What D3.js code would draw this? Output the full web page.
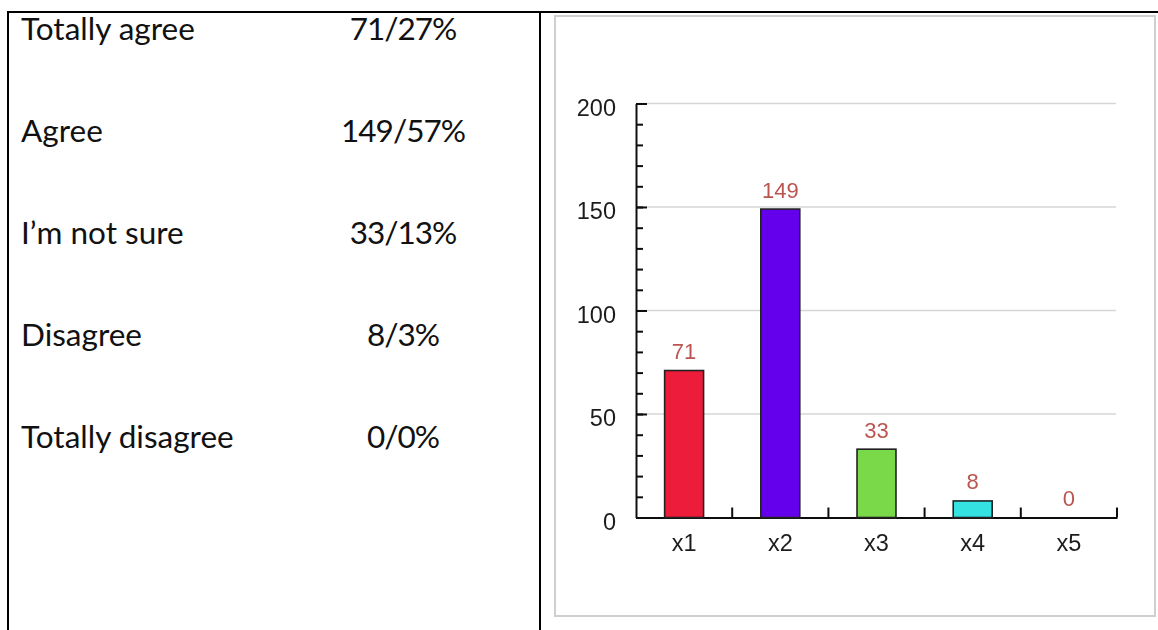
<!DOCTYPE html>
<html>
<head>
<meta charset="utf-8">
<script src="https://cdn.jsdelivr.net/npm/d3@7"></script>
<style>
  html, body { margin: 0; padding: 0; background: #fff; }
  svg { display: block; }
</style>
</head>
<body>
<svg id="chart" width="1158" height="630"></svg>
<script>
// Survey answers, counts and shares
const answers = ["Totally agree", "Agree", "I\u2019m not sure", "Disagree", "Totally disagree"];
const counts = [71, 149, 33, 8, 0];
const percents = [27, 57, 13, 3, 0];

// Bar chart categories and axis ticks
const categories = ["x1", "x2", "x3", "x4", "x5"];
const yTicks = [0, 50, 100, 150, 200];
const yMinorStep = 10;

const barColors = ["#ee1b3b", "#6502ec", "#79d948", "#35e2e2", "#f0a020"];

const svg = d3.select("#chart");

// ---- table frame ----
const frame = svg.append("g").attr("stroke", "#000").attr("stroke-width", 2);
frame.append("line").attr("x1", 7).attr("x2", 1158).attr("y1", 12).attr("y2", 12);
frame.append("line").attr("x1", 8).attr("x2", 8).attr("y1", 12).attr("y2", 630);
frame.append("line").attr("x1", 540).attr("x2", 540).attr("y1", 12).attr("y2", 630);

// ---- left column: answers with count/percent ----
const rowY = d3.scalePoint().domain(answers).range([39.5, 447.5]);
const rows = svg.append("g")
  .attr("font-family", "Lato, 'Open Sans', sans-serif")
  .attr("font-size", 31.5)
  .attr("fill", "#111");

rows.selectAll("text.answer")
  .data(answers)
  .join("text")
  .attr("class", "answer")
  .attr("x", 21)
  .attr("y", d => rowY(d))
  .text(d => d);

rows.selectAll("text.share")
  .data(answers)
  .join("text")
  .attr("class", "share")
  .attr("x", 403)
  .attr("y", d => rowY(d))
  .attr("text-anchor", "middle")
  .attr("letter-spacing", -1)
  .text((d, i) => `${counts[i]}/${percents[i]}%`);

// ---- right column: bar chart panel ----
const defs = svg.append("defs");
defs.append("filter").attr("id", "soft")
  .append("feGaussianBlur").attr("stdDeviation", 0.45);

svg.append("rect")
  .attr("x", 555).attr("y", 16)
  .attr("width", 600).attr("height", 600)
  .attr("fill", "#fff")
  .attr("stroke", "#cfcfcf")
  .attr("stroke-width", 2);

const plot = svg.append("g").attr("filter", "url(#soft)");

const x = d3.scaleBand().domain(categories).range([636, 1117]).padding(0);
const y = d3.scaleLinear().domain([0, 200]).range([517.5, 103.5]);

// horizontal grid lines
plot.append("g")
  .selectAll("line")
  .data(yTicks.filter(t => t > 0))
  .join("line")
  .attr("x1", 636).attr("x2", 1116)
  .attr("y1", d => y(d)).attr("y2", d => y(d))
  .attr("stroke", "#d6d6d6")
  .attr("stroke-width", 1.5);

// minor ticks on the value axis
const minorAxis = plot.append("g")
  .attr("transform", "translate(636,0)")
  .call(d3.axisLeft(y)
    .tickValues(d3.range(0, 201, yMinorStep))
    .tickSize(-7)
    .tickSizeOuter(0)
    .tickFormat(""));
minorAxis.select(".domain").remove();
minorAxis.selectAll("line").attr("stroke", "#111").attr("stroke-width", 2);

// major ticks, labels and axis line
const yAxis = plot.append("g")
  .attr("transform", "translate(636,0)")
  .call(d3.axisLeft(y)
    .tickValues(yTicks)
    .tickSize(-11)
    .tickSizeOuter(0)
    .tickPadding(20));
yAxis.select(".domain").attr("stroke", "#111").attr("stroke-width", 2);
yAxis.selectAll("line").attr("stroke", "#111").attr("stroke-width", 2);
yAxis.selectAll("text")
  .attr("font-family", "'Liberation Sans', Arial, sans-serif")
  .attr("font-size", 23.5)
  .attr("fill", "#1e1e1e")
  .attr("dy", "0.5em");

// category axis
const xAxis = plot.append("g")
  .attr("transform", `translate(0,${y(0)})`)
  .call(d3.axisBottom(x).tickSize(0).tickPadding(17));
xAxis.select(".domain").attr("stroke", "#111").attr("stroke-width", 2);
xAxis.selectAll("text")
  .attr("font-family", "'Liberation Sans', Arial, sans-serif")
  .attr("font-size", 23.5)
  .attr("fill", "#1e1e1e");

// boundary ticks between categories, pointing up
plot.append("g")
  .selectAll("line")
  .data(categories)
  .join("line")
  .attr("x1", d => x(d) + x.bandwidth())
  .attr("x2", d => x(d) + x.bandwidth())
  .attr("y1", y(0))
  .attr("y2", y(0) - 10)
  .attr("stroke", "#111")
  .attr("stroke-width", 2);

// bars
const barW = x.bandwidth() * 0.405;
plot.append("g")
  .selectAll("rect")
  .data(categories)
  .join("rect")
  .attr("x", d => x(d) + (x.bandwidth() - barW) / 2)
  .attr("width", barW)
  .attr("y", (d, i) => y(counts[i]))
  .attr("height", (d, i) => y(0) - y(counts[i]))
  .attr("fill", (d, i) => barColors[i])
  .attr("stroke", (d, i) => counts[i] > 0 ? "#222" : "none")
  .attr("stroke-width", 1.6);

// value labels
plot.append("g")
  .selectAll("text")
  .data(categories)
  .join("text")
  .attr("x", d => x(d) + x.bandwidth() / 2)
  .attr("y", (d, i) => y(counts[i]) - 11.5)
  .attr("text-anchor", "middle")
  .attr("font-family", "'Liberation Sans', Arial, sans-serif")
  .attr("font-size", 22)
  .attr("fill", "#bb5450")
  .text((d, i) => counts[i]);
</script>
</body>
</html>
